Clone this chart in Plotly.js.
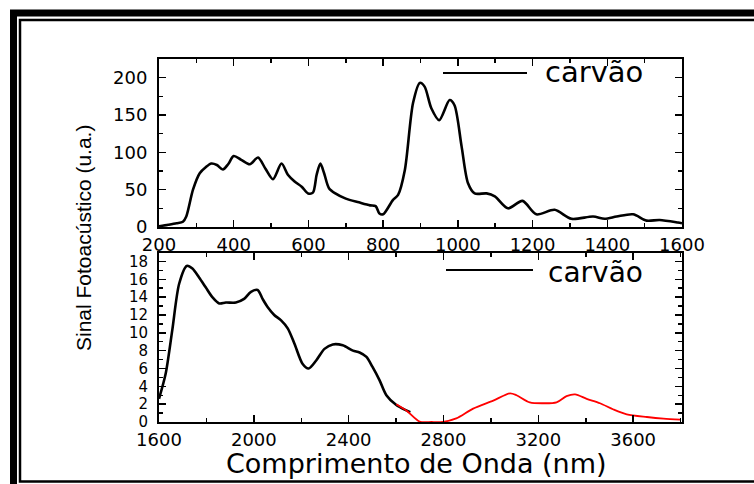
<!DOCTYPE html>
<html>
<head>
<meta charset="utf-8">
<script src="https://cdn.plot.ly/plotly-3.0.1.min.js"></script>
<style>html,body{margin:0;padding:0;background:#fff;}#chart{width:754px;height:484px;}</style>
</head>
<body>
<div id="chart"></div>
<script>
// Top panel: 200-1600 nm
const topX = [200, 225, 247, 264, 273, 291, 309, 325, 340, 355, 371, 385, 400, 420, 443, 465, 485, 505, 528, 545, 563, 582, 599, 612, 622, 632, 642, 655, 672, 700, 735, 765, 780, 790, 800, 826, 840, 858, 880, 898, 911, 929, 950, 978, 991, 1010, 1027, 1045, 1077, 1099, 1134, 1173, 1210, 1259, 1304, 1362, 1393, 1425, 1469, 1505, 1540, 1589, 1600];
const topY = [1, 3, 5, 7, 14, 50, 72, 80, 85, 83, 77, 84, 95, 90, 84, 93, 78, 64, 85, 70, 61, 54, 45, 46, 70, 85, 72, 52, 45, 38, 33, 29, 28, 18, 17, 36, 43, 76, 166, 193, 188, 159, 143, 170, 163, 108, 59, 45, 45, 41, 25, 35, 17, 23, 11, 14, 11, 14, 17, 8.5, 9.4, 6, 5];

// Bottom panel: 1600-3800 nm, black segment
const botX = [1600, 1628, 1656, 1685, 1717, 1741, 1769, 1797, 1825, 1854, 1882, 1924, 1959, 1988, 2016, 2037, 2058, 2086, 2115, 2143, 2171, 2206, 2231, 2263, 2298, 2333, 2375, 2418, 2446, 2475, 2500, 2530, 2559, 2601, 2643, 2660];
const botY = [2.6, 5.4, 10.3, 15.5, 17.5, 17.2, 16.2, 15.1, 14, 13.3, 13.4, 13.4, 13.8, 14.6, 14.8, 13.8, 12.9, 12, 11.4, 10.5, 8.8, 6.5, 6, 6.9, 8.2, 8.7, 8.6, 8.0, 7.8, 7.3, 6.2, 4.7, 3.0, 1.9, 1.3, 1.1];

// Bottom panel: red segment
const redX = [2601, 2643, 2699, 2750, 2798, 2854, 2925, 3010, 3080, 3108, 3164, 3221, 3277, 3319, 3355, 3404, 3460, 3517, 3573, 3658, 3728, 3800];
const redY = [2.0, 1.3, 0.05, 0, 0.02, 0.4, 1.5, 2.4, 3.2, 3.0, 2.2, 2.1, 2.2, 2.9, 3.1, 2.6, 2.1, 1.4, 0.86, 0.56, 0.38, 0.27];

const legendLabel = "carvão";
const xTitle = "Comprimento de Onda (nm)";
const yTitle = "Sinal Fotoacústico (u.a.)";

const W = 754, H = 484;
const px = v => v / W;
const py = v => 1 - v / H;

const tickFont = {family: "DejaVu Sans, Liberation Sans, Arial", size: 18, color: "#000"};
const tickFontSmall = {family: "DejaVu Sans, Liberation Sans, Arial", size: 15, color: "#000"};

function axisBase(extra) {
  return Object.assign({
    showline: true, linecolor: "#000", linewidth: 2, mirror: "ticks",
    ticks: "inside", ticklen: 7, tickwidth: 1.5, tickcolor: "#000",
    showgrid: false, zeroline: false, tickfont: tickFont, fixedrange: true
  }, extra);
}

const minorStyle = {ticks: "inside", ticklen: 4, tickcolor: "#000", tickwidth: 1.5};

const traces = [
  {x: topX, y: topY, xaxis: "x", yaxis: "y", mode: "lines", name: legendLabel,
   line: {color: "#000", width: 2.6, shape: "spline", smoothing: 0.8}, showlegend: false},
  {x: botX, y: botY, xaxis: "x2", yaxis: "y2", mode: "lines", name: legendLabel,
   line: {color: "#000", width: 2.6, shape: "spline", smoothing: 0.8}, showlegend: false},
  {x: redX, y: redY, xaxis: "x2", yaxis: "y2", mode: "lines", name: legendLabel + " (2)",
   line: {color: "#ff0000", width: 1.8, shape: "spline", smoothing: 0.8}, showlegend: false}
];

const layout = {
  width: W, height: H,
  margin: {l: 0, r: 0, t: 0, b: 0},
  paper_bgcolor: "#fff", plot_bgcolor: "#fff",
  showlegend: false,
  xaxis: axisBase({domain: [px(159), px(682)], range: [200, 1600], dtick: 200, tick0: 0,
    anchor: "y", ticklabelstandoff: 0, minor: Object.assign({dtick: 100}, minorStyle)}),
  yaxis: axisBase({domain: [py(227), py(59)], range: [0, 225], dtick: 50, tick0: 0,
    anchor: "x", ticklabelstandoff: 6, minor: Object.assign({dtick: 25}, minorStyle)}),
  xaxis2: axisBase({domain: [px(159), px(682)], range: [1600, 3806], dtick: 400, tick0: 0,
    anchor: "y2", ticklabelstandoff: 0, minor: Object.assign({dtick: 200}, minorStyle)}),
  yaxis2: axisBase({domain: [py(422), py(253)], range: [0, 18.95], dtick: 2, tick0: 0,
    anchor: "x2", ticklabelstandoff: 6, tickfont: tickFontSmall, minor: Object.assign({dtick: 1}, minorStyle)}),
  shapes: [
    // outer thick frame
    {type: "rect", xref: "paper", yref: "paper", x0: px(13.5), y0: -0.05, x1: 1.05, y1: py(13), line: {color: "#000", width: 7}, layer: "below"},
    // inner thin frame
    {type: "rect", xref: "paper", yref: "paper", x0: px(20), y0: py(481.5), x1: 1.05, y1: py(20), line: {color: "#000", width: 2.5}, layer: "below"},
    // legend samples
    {type: "line", xref: "paper", yref: "paper", x0: px(443), x1: px(527), y0: py(73), y1: py(73), line: {color: "#000", width: 2}},
    {type: "line", xref: "paper", yref: "paper", x0: px(446), x1: px(533), y0: py(270), y1: py(270), line: {color: "#000", width: 2}}
  ],
  annotations: [
    {xref: "paper", yref: "paper", x: px(543), y: py(72), xanchor: "left", yanchor: "middle", showarrow: false,
     text: legendLabel, font: {family: "DejaVu Sans, Liberation Sans, Arial", size: 29, color: "#000"}},
    {xref: "paper", yref: "paper", x: px(546), y: py(272), xanchor: "left", yanchor: "middle", showarrow: false,
     text: legendLabel, font: {family: "DejaVu Sans, Liberation Sans, Arial", size: 28, color: "#000"}},
    {xref: "paper", yref: "paper", x: px(417), y: py(463), xanchor: "center", yanchor: "middle", showarrow: false,
     text: xTitle, font: {family: "DejaVu Sans, Liberation Sans, Arial", size: 27, color: "#000"}},
    {xref: "paper", yref: "paper", x: px(83), y: py(238), xanchor: "center", yanchor: "middle", showarrow: false,
     textangle: -90, text: yTitle, font: {family: "Liberation Sans, Arial", size: 21, color: "#000"}}
  ]
};

Plotly.newPlot("chart", traces, layout, {staticPlot: true, displayModeBar: false});
</script>
</body>
</html>
